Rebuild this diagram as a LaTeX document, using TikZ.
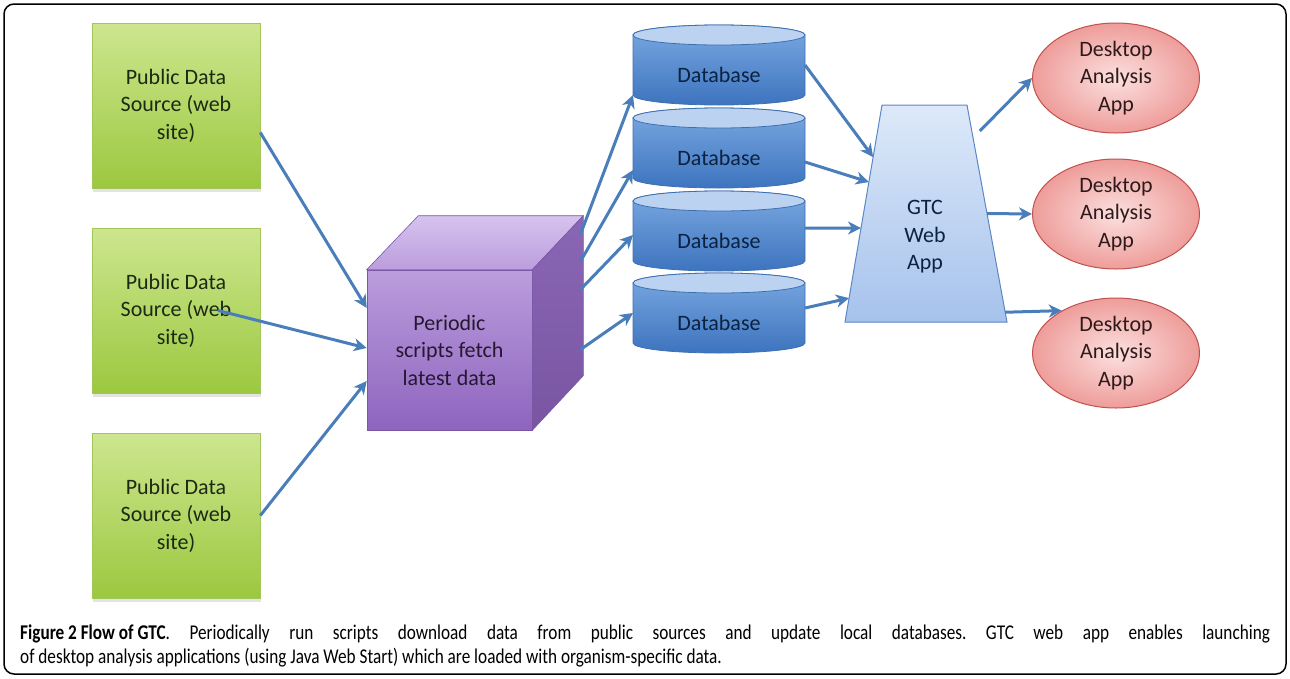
\documentclass[tikz,border=0pt]{standalone}
\usepackage{fontspec}
\setmainfont{Carlito}
\newfontfamily\capfont[FakeStretch=0.82]{Carlito}
\usepackage{tikz}
\usetikzlibrary{shapes.geometric,arrows.meta,positioning,calc,shadows,backgrounds}

\definecolor{srctop}{HTML}{CDE68F}
\definecolor{srcbot}{HTML}{9CC83F}
\definecolor{srcedge}{HTML}{A3C65A}
\definecolor{srctext}{HTML}{1C2A14}
\definecolor{cubetop}{HTML}{D6C3EE}
\definecolor{cubeup}{HTML}{BB9DDD}
\definecolor{cubelow}{HTML}{8E64BE}
\definecolor{cubeside}{HTML}{8A66B6}
\definecolor{cubeedge}{HTML}{7A58A6}
\definecolor{cubetext}{HTML}{261833}
\definecolor{dbup}{HTML}{7BA9E1}
\definecolor{dblow}{HTML}{3D74BF}
\definecolor{dbcap}{HTML}{BBD3F0}
\definecolor{dbedge}{HTML}{3E6FB0}
\definecolor{dbtext}{HTML}{0B2240}
\definecolor{gtcup}{HTML}{DDE9F9}
\definecolor{gtclow}{HTML}{A6C2EC}
\definecolor{gtcedge}{HTML}{5B87C6}
\definecolor{apppink}{HTML}{FBE0DF}
\definecolor{appred}{HTML}{EE9D9A}
\definecolor{appedge}{HTML}{C0504D}
\definecolor{apptext}{HTML}{2E1A1A}
\definecolor{flowblue}{HTML}{4A7EBB}

\begin{document}
\begin{tikzpicture}[x=1pt, y=-1pt,
  every node/.style={font=\fontsize{22}{27.5}\selectfont, align=center, inner sep=0pt},
  source/.style={rectangle, draw=srcedge, line width=0.6pt, top color=srctop, bottom color=srcbot,
    minimum width=168pt, minimum height=165pt, text=srctext,
    drop shadow={shadow xshift=1pt, shadow yshift=-4pt, opacity=0.22}},
  scripts/.style={rectangle, draw=cubeedge, line width=0.6pt, top color=cubeup, bottom color=cubelow,
    minimum width=165pt, minimum height=160pt, text=cubetext},
  database/.style={rectangle, minimum width=172pt, minimum height=60pt, outer sep=0pt, text=dbtext},
  dbbody/.style={draw=dbedge, line width=0.8pt, top color=dbup, bottom color=dblow},
  dbcapfill/.style={draw=dbedge, line width=0.8pt, fill=dbcap},
  app/.style={ellipse, draw=appedge, line width=1pt, inner color=apppink, outer color=appred,
    minimum width=167pt, minimum height=110pt, text=apptext},
  flow/.style={draw=flowblue, line width=3pt, -{Stealth[length=13pt, width=13pt, inset=4pt]}},
  caption/.style={font=\capfont\fontsize{21}{24}\selectfont, anchor=base west}
]
\useasboundingbox (0,0) rectangle (1290,678);

% frame
\draw[line width=1.5pt, rounded corners=10pt] (4,4) rectangle (1286,674);

% public data sources
\node[source] (src1) at (176,105.5) {Public Data\\Source (web\\site)};
\node[source] (src2) at (176,310.5) {Public Data\\Source (web\\site)};
\node[source] (src3) at (176,515.5) {Public Data\\Source (web\\site)};

% periodic scripts (cube)
\node[scripts] (cube) at (449.5,350) {Periodic\\scripts fetch\\latest data};
\path[draw=cubeedge, line width=0.6pt, top color=cubetop, bottom color=cubeup]
  (cube.north west) -- (cube.north east) -- ++(51,-54) -- ++(-165,0) -- cycle;
\path[draw=cubeedge, line width=0.6pt, top color=cubeside, bottom color=cubelow!85!black]
  (cube.north east) -- ++(51,-54) -- ++(0,160) -- (cube.south east) -- cycle;

% databases
\foreach \n/\t in {1/25,2/108,3/191,4/273}
    \node[database] (db\n) at (719,\t+50) {Database};

\begin{scope}[on background layer]
\foreach \n in {1,...,4} {
    \path[dbbody] ([yshift=10pt]db\n.north west) -- ([yshift=10pt]db\n.south west)
      arc[start angle=180, end angle=360, x radius=86pt, y radius=10pt]
      -- ([yshift=10pt]db\n.north east)
      arc[start angle=0, end angle=180, x radius=86pt, y radius=10pt] -- cycle;
    \path[dbcapfill] ([yshift=10pt]db\n.north) ellipse [x radius=86pt, y radius=10pt];
}
\end{scope}

% GTC web app
\coordinate (gtc-tl) at (882,105);
\coordinate (gtc-tr) at (967,105);
\coordinate (gtc-br) at (1007,322);
\coordinate (gtc-bl) at (845,322);
\path[draw=gtcedge, line width=1pt, top color=gtcup, bottom color=gtclow]
  (gtc-tl) -- (gtc-tr) -- (gtc-br) -- (gtc-bl) -- cycle;
\node[text=dbtext] (gtc) at (925,237) {GTC\\Web\\App};

% desktop apps
\node[app] (app1) at (1116,78) {Desktop\\Analysis\\App};
\node[app] (app2) at (1116,214) {Desktop\\Analysis\\App};
\node[app] (app3) at (1116,353) {Desktop\\Analysis\\App};

% arrows
\draw[flow] ([yshift=-27pt]src1.east) -- ([yshift=42pt]cube.west);
\draw[flow] ([xshift=42pt]src2.center) -- ([yshift=2pt]cube.west);
\draw[flow] (src3.east) -- ([yshift=-31pt]cube.west);

\foreach \dy/\n/\sh in {-35/1/-20, -8/2/-12, 20/3/6, 80/4/10}
    \draw[flow] ($(cube.north east)+(48,\dy)$) -- ([yshift=\sh pt]db\n.west);

\foreach \n/\sh/\p in {1/10/0.24, 2/-4/0.355, 3/13/0.567, 4/15/0.89}
    \draw[flow] ([yshift=\sh pt]db\n.east) -- ($(gtc-tl)!\p!(gtc-bl)$);

\draw[flow] ($(gtc-tr)!0.12!(gtc-br)+(8,0)$) -- (app1.west);
\draw[flow] ($(gtc-tr)!0.5!(gtc-br)$) -- (app2.west);
\draw[flow] ($(gtc-tr)!0.955!(gtc-br)$) -- (app3.142);

% caption
\node[caption] (caption1) at (20,639) {\frenchspacing\makebox[1250pt][s]{\mbox{\textbf{Figure 2 Flow of GTC}}. Periodically run scripts download data from public sources and update local databases. GTC web app enables launching}};
\node[caption] (caption2) at (20,663) {of desktop analysis applications (using Java Web Start) which are loaded with organism-specific data.};

\end{tikzpicture}
\end{document}
